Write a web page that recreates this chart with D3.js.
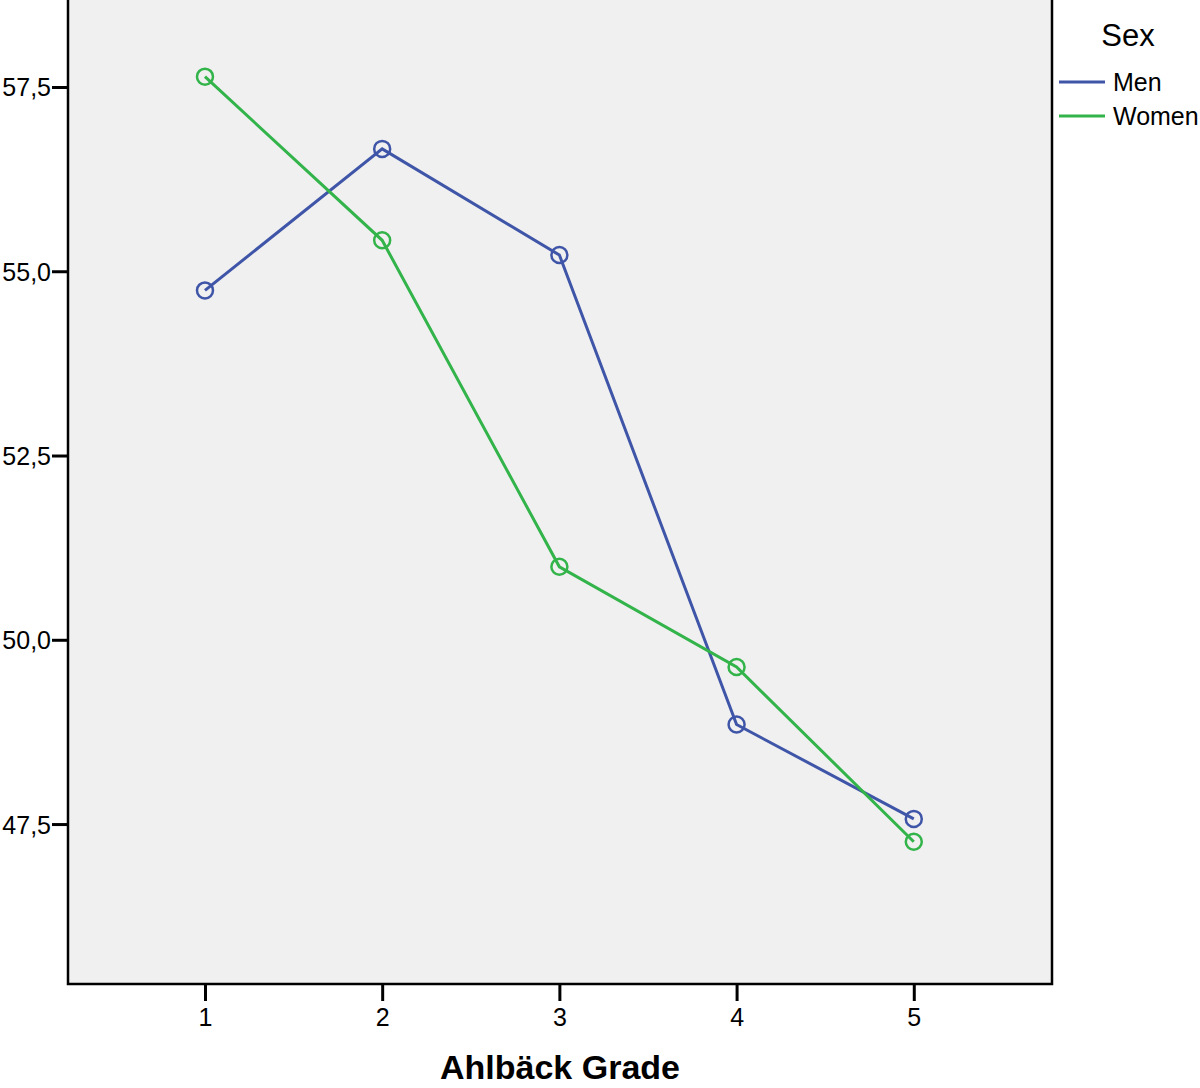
<!DOCTYPE html>
<html><head><meta charset="utf-8">
<script src="https://cdn.jsdelivr.net/npm/d3@7"></script>
<style>body{margin:0;background:#fff}svg{display:block}text{font-family:"Liberation Sans",Arial,sans-serif}</style>
</head><body><svg id="c" width="1200" height="1088"></svg>
<script>
const grades = [1, 2, 3, 4, 5];
const menValues = [54.74, 56.66, 55.22, 48.85, 47.57];
const womenValues = [57.64, 55.42, 50.99, 49.63, 47.26];
const yTicks = [47.5, 50.0, 52.5, 55.0, 57.5];
const seriesNames = ["Men", "Women"];
const seriesColors = ["#3f55a8", "#33b44a"];

const svg = d3.select("#c");
const L = 68, R = 1052, T = -4, B = 984;
const x = d3.scaleLinear().domain([0.227, 5.78]).range([L, R]);
const y = d3.scaleLinear().domain([45.33, 58.68]).range([B, 0]);

svg.append("rect").attr("x", L).attr("y", T).attr("width", R - L).attr("height", B - T)
  .attr("fill", "#f0f0f0").attr("stroke", "#000").attr("stroke-width", 2.5);

const yAxis = d3.axisLeft(y).tickValues(yTicks).tickSize(16).tickPadding(1)
  .tickFormat(d => d3.format(".1f")(d).replace(".", ","));
const gy = svg.append("g").attr("transform", `translate(${L},0)`).call(yAxis);
gy.select(".domain").remove();
gy.selectAll("line").attr("stroke", "#000").attr("stroke-width", 3);
gy.selectAll("text").attr("font-size", 25).attr("fill", "#000").attr("dy", "0.36em");

const xAxis = d3.axisBottom(x).tickValues(grades).tickSize(17).tickPadding(7).tickFormat(d3.format("d"));
const gx = svg.append("g").attr("transform", `translate(0,${B})`).call(xAxis);
gx.select(".domain").remove();
gx.selectAll("line").attr("stroke", "#000").attr("stroke-width", 3);
gx.selectAll("text").attr("font-size", 25).attr("fill", "#000");

svg.append("text").attr("x", 560).attr("y", 1079).attr("text-anchor", "middle")
  .attr("font-size", 34).attr("font-weight", "bold").text("Ahlbäck Grade");

const data = [menValues, womenValues];
const line = d3.line().x((d, i) => x(grades[i])).y(d => y(d));
data.forEach((vals, k) => {
  svg.append("path").datum(vals).attr("d", line).attr("fill", "none")
    .attr("stroke", seriesColors[k]).attr("stroke-width", 3);
  svg.selectAll(null).data(vals).enter().append("circle")
    .attr("cx", (d, i) => x(grades[i])).attr("cy", d => y(d)).attr("r", 8)
    .attr("fill", "none").attr("stroke", seriesColors[k]).attr("stroke-width", 2.5);
});

// legend
svg.append("text").attr("x", 1128).attr("y", 46).attr("text-anchor", "middle")
  .attr("font-size", 31).text("Sex");
seriesNames.forEach((n, k) => {
  const yy = 82 + k * 34;
  svg.append("line").attr("x1", 1059).attr("x2", 1105).attr("y1", yy).attr("y2", yy)
    .attr("stroke", seriesColors[k]).attr("stroke-width", 3);
  svg.append("text").attr("x", 1113).attr("y", yy + 9).attr("font-size", 25).text(n);
});
</script></body></html>
